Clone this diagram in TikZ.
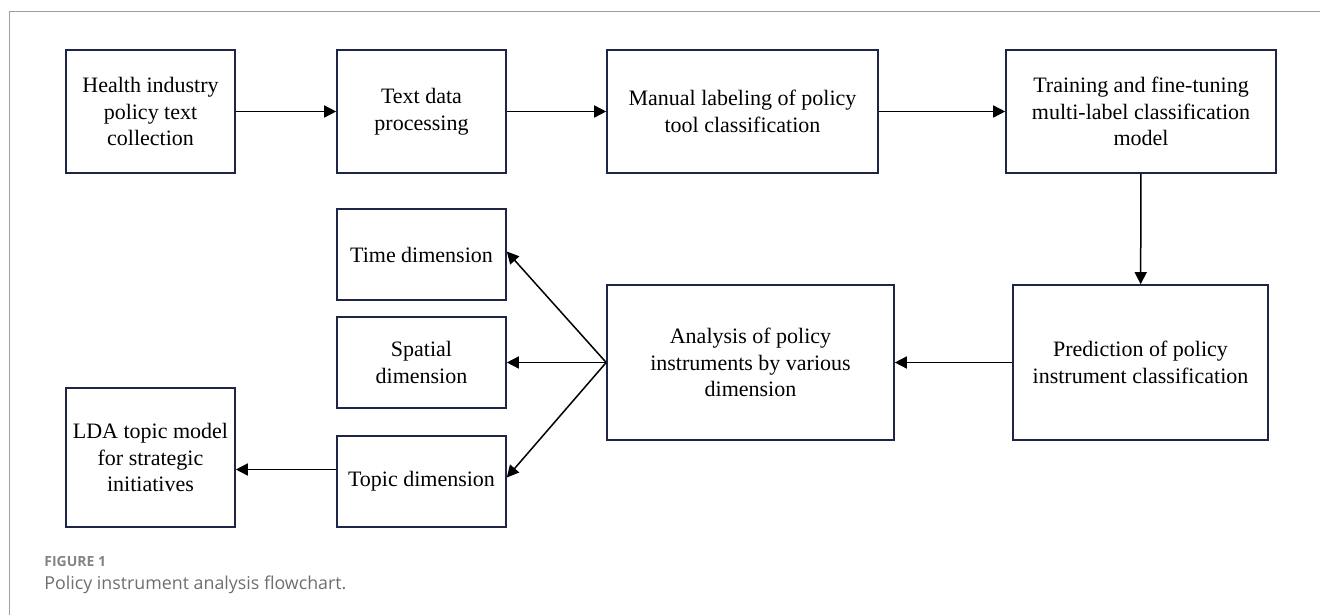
\documentclass[tikz,border=0pt]{standalone}
\usepackage{fontspec}
\setmainfont{Liberation Serif}
\newfontfamily\capfont{Open Sans}
\usetikzlibrary{arrows.meta}

\definecolor{boxblue}{HTML}{1F2547}
\definecolor{capgray}{HTML}{6E6E6E}

\begin{document}
\begin{tikzpicture}[
    x=0.5pt, y=-0.5pt,
    stage/.style={rectangle, draw=boxblue, line width=0.8pt, align=center, inner sep=2pt,
        font=\fontsize{11}{13.3}\selectfont},
    arrow/.style={-{Triangle[length=6pt, width=6pt]}, line width=0.75pt},
    frame/.style={draw=gray!75, line width=0.5pt}
]

% Canvas and frame
\useasboundingbox (0,0) rectangle (1320,615);
\draw[frame] (9,615) -- (9,12) -- (1320,12);

% Top row
\node[stage, minimum width=84.5pt, minimum height=61.5pt] (collect) at (150.5,111.5) {Health industry\\policy text\\collection};
\node[stage, minimum width=84.5pt, minimum height=61.5pt] (process) at (421.5,111.5) {Text data\\processing};
\node[stage, minimum width=135.5pt, minimum height=61.5pt] (labeling) at (742.5,111.5) {Manual labeling of policy\\tool classification};
\node[stage, minimum width=135pt, minimum height=61.5pt] (training) at (1141,111.5) {Training and fine-tuning\\multi-label classification\\model};

% Middle row
\node[stage, minimum width=127.5pt, minimum height=77.5pt] (predict) at (1140.5,362.5) {Prediction of policy\\instrument classification};
\node[stage, minimum width=143.5pt, minimum height=77.5pt] (analysis) at (750.5,362.5) {Analysis of policy\\instruments by various\\dimension};

% Dimensions
\node[stage, minimum width=84.5pt, minimum height=45.5pt] (time) at (421.5,254.5) {Time dimension};
\node[stage, minimum width=84.5pt, minimum height=45.5pt] (spatial) at (421.5,362.5) {Spatial\\dimension};
\node[stage, minimum width=84.5pt, minimum height=45.5pt] (topic) at (421.5,481.5) {Topic dimension};
\node[stage, minimum width=84.5pt, minimum height=69.5pt] (lda) at (150.5,457.5) {LDA topic model\\for strategic\\initiatives};

% Arrows
\draw[arrow] (collect) -- (process);
\draw[arrow] (process) -- (labeling);
\draw[arrow] (labeling) -- (training);
\draw[arrow] (training) -- (predict);
\draw[arrow] (predict) -- (analysis);
\draw[arrow] (analysis.west) -- ([yshift=1.5pt]time.east);
\draw[arrow] (analysis.west) -- (spatial.east);
\draw[arrow] (analysis.west) -- ([yshift=2pt]topic.east);
\coordinate (tw) at ([yshift=6pt]topic.west);
\draw[arrow] (tw) -- (tw -| lda.east);

% Caption
\node[anchor=base west, inner sep=0pt, text=capgray!85, font=\capfont\fontsize{7}{8}\selectfont\bfseries] (figno) at (44,566) {FIGURE 1};
\node[anchor=base west, inner sep=0pt, text=capgray, font=\capfont\fontsize{8.9}{10}\selectfont] (caption) at (44,589) {Policy instrument analysis flowchart.};

\end{tikzpicture}
\end{document}
